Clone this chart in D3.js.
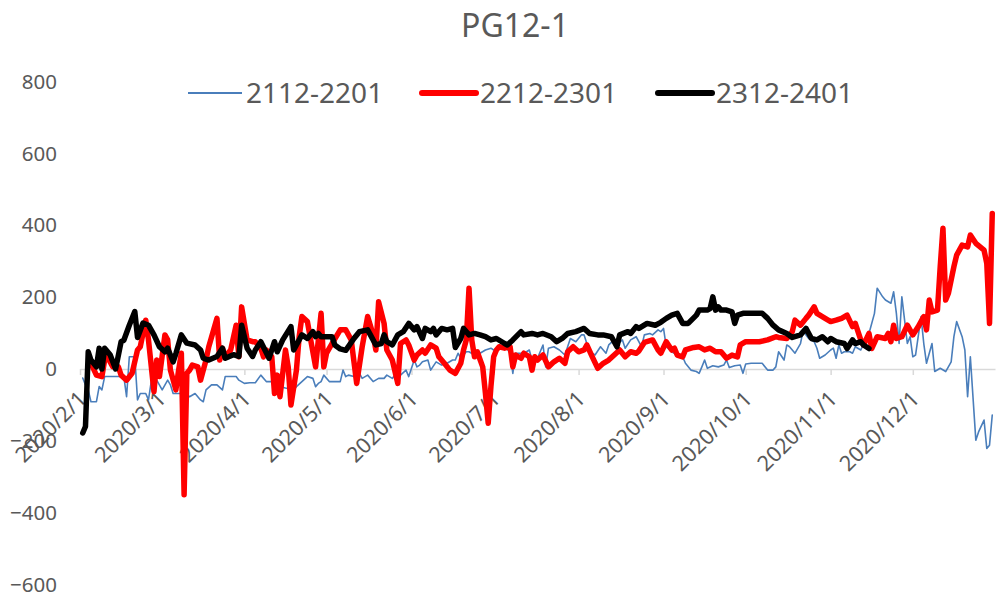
<!DOCTYPE html>
<html>
<head>
<meta charset="utf-8">
<script src="https://cdn.jsdelivr.net/npm/d3@7/dist/d3.min.js"></script>
<style>
html,body{margin:0;padding:0;background:#fff;}
svg{display:block;font-family:"Noto Sans",sans-serif;}
</style>
</head>
<body>
<svg id="chart" width="997" height="596"></svg>
<script>
// ---------- data ----------
const title = "PG12-1";
const seriesNames = ["2112-2201", "2212-2301", "2312-2401"];
const yTicks = [-600, -400, -200, 0, 200, 400, 600, 800];

// 2112-2201
const blueDates = ["2/2","2/3","2/4","2/5","2/7","2/8","2/9","2/10","2/13","2/16","2/17","2/18","2/19","2/21","2/22","2/23","2/25","2/26","2/27","2/29",
"3/2","3/4","3/5","3/6","3/9","3/10","3/12","3/14","3/16","3/17","3/18","3/20","3/22","3/24","3/25","3/27","3/29","3/30",
"4/1","4/3","4/5","4/7","4/9","4/11","4/13","4/14","4/16","4/19","4/20","4/22","4/24","4/26","4/27","4/28","4/29","4/30",
"5/2","5/4","5/6","5/7","5/8","5/9","5/11","5/13","5/14","5/16","5/18","5/20","5/22","5/23","5/25","5/26","5/28","5/30","5/31",
"6/2","6/3","6/4","6/5","6/7","6/8","6/10","6/12","6/14","6/16","6/17","6/18","6/19","6/21","6/22","6/24","6/26","6/28","6/30",
"7/1","7/3","7/5","7/7","7/8","7/9","7/11","7/13","7/14","7/15","7/17","7/19","7/20","7/21","7/23","7/25","7/27","7/28","7/29","7/31",
"8/2","8/3","8/5","8/7","8/9","8/11","8/12","8/14","8/15","8/17","8/18","8/20","8/22","8/24","8/25","8/27","8/28","8/30","8/31",
"9/1","9/2","9/4","9/6","9/8","9/9","9/11","9/13","9/14","9/15","9/16","9/17","9/19","9/21","9/23","9/24","9/25","9/27","9/29","9/30",
"10/1","10/3","10/5","10/7","10/9","10/11","10/12","10/13","10/15","10/16","10/17","10/19","10/21","10/22","10/23","10/24","10/26","10/27","10/28","10/30",
"11/1","11/2","11/3","11/4","11/5","11/6","11/8","11/9","11/10","11/12","11/14","11/15","11/17","11/18","11/20","11/21","11/23","11/24","11/25","11/26","11/27","11/28","11/29","11/30",
"12/1","12/2","12/4","12/5","12/6","12/8","12/9","12/11","12/13","12/15","12/16","12/17","12/19","12/20","12/21","12/22","12/24","12/25","12/27","12/28","12/29","12/30"];
const blueValues = [-25,-44,-58,-91,-91,-49,-58,-21,-21,-21,-21,-77,34,34,-86,-68,-68,-86,-35,-31,
-58,-31,-44,-68,-68,-68,-77,-68,-86,-91,-58,-44,-44,-58,-21,-21,-21,-31,
-40,-38,-38,-17,-35,-35,-35,-49,-53,-58,-49,-35,-21,-26,-49,-40,-35,-17,
-35,-35,-35,-3,-21,-17,-21,-12,-26,-17,-35,-26,-26,-17,-26,-17,-17,-3,-21,
25,6,11,20,25,-3,20,11,16,25,25,44,30,48,48,39,44,53,58,
53,58,67,44,-12,44,44,48,53,25,30,67,6,58,62,53,39,62,85,76,
95,95,48,39,62,44,67,81,67,81,58,81,90,62,95,99,95,109,104,
113,62,48,39,34,16,-3,-7,-12,6,25,2,9,6,11,25,4,9,11,-12,
14,16,16,16,-3,-3,6,48,25,67,62,44,71,109,95,85,76,58,30,39,
53,58,30,67,44,48,48,44,62,53,85,99,155,225,201,192,183,215,155,71,201,136,71,90,
34,39,146,71,16,71,-7,2,-7,20,90,132,90,53,-77,34,-198,-175,-142,-221,-212,-128];

// 2212-2301
const redDates = ["2/5","2/7","2/9","2/10","2/11","2/13","2/15","2/16","2/18","2/20","2/22","2/23","2/25","2/26","2/28","2/29",
"3/1","3/3","3/4","3/5","3/7","3/8","3/9","3/10","3/11","3/12","3/13","3/15","3/16","3/18","3/19","3/22","3/23","3/24","3/25","3/27","3/29","3/30","3/31",
"4/2","4/4","4/5","4/7","4/8","4/9","4/11","4/12","4/13","4/14","4/16","4/17","4/18","4/20","4/21","4/22","4/24","4/25","4/27","4/29","4/30",
"5/1","5/3","5/6","5/8","5/10","5/12","5/14","5/16","5/18","5/19","5/20","5/22","5/23","5/25","5/27","5/28","5/30","5/31",
"6/2","6/3","6/5","6/6","6/8","6/10","6/11","6/13","6/15","6/17","6/19","6/20","6/21","6/22","6/23","6/24","6/25","6/27","6/28","6/29","6/30",
"7/1","7/2","7/3","7/5","7/7","7/8","7/9","7/11","7/12","7/14","7/15","7/16","7/17","7/19","7/21","7/23","7/25","7/27","7/28","7/30",
"8/1","8/3","8/4","8/6","8/8","8/10","8/12","8/14","8/16","8/18","8/20","8/22","8/23","8/25","8/28","8/30","8/31",
"9/2","9/4","9/5","9/6","9/8","9/9","9/12","9/14","9/16","9/18","9/20","9/22","9/24","9/26","9/28","9/29",
"10/1","10/4","10/6","10/9","10/12","10/13","10/16","10/18","10/19","10/21","10/23","10/24","10/26","10/27","10/30",
"11/1","11/3","11/5","11/7","11/9","11/10","11/12","11/13","11/15","11/16","11/18","11/21","11/22","11/23","11/24","11/25","11/27","11/29",
"12/1","12/3","12/5","12/6","12/7","12/8","12/10","12/11","12/12","12/13","12/14","12/16","12/17","12/19","12/21","12/22","12/24","12/27","12/28","12/29","12/30"];
const redValues = [16,-17,-21,25,34,6,6,-17,-31,-12,53,62,136,81,-63,25,
-21,95,81,-3,-58,-3,44,-350,-12,-3,11,6,-31,25,62,141,25,58,34,53,122,34,173,
81,76,76,58,34,53,34,-68,-17,-77,53,6,-100,-3,90,146,132,90,6,155,6,
44,71,109,109,81,-40,62,146,95,53,187,127,53,25,-40,71,81,67,
25,39,53,44,67,58,34,16,-3,-12,16,53,81,225,81,34,48,6,-68,-151,-49,
34,53,62,58,62,6,39,30,44,34,-3,34,25,39,6,20,30,16,48,62,
48,53,67,34,2,16,25,39,53,34,48,44,50,74,81,53,44,
76,53,58,39,34,53,60,62,53,58,48,48,30,39,34,67,
76,76,76,81,90,88,85,104,136,122,141,150,173,155,141,
132,136,141,150,118,127,81,67,99,57,90,85,99,76,122,85,90,122,
95,118,146,109,192,159,164,285,392,192,211,285,317,345,340,373,350,331,294,127,433];

// 2312-2401
const blackDates = ["2/2","2/3","2/4","2/5","2/7","2/8","2/9","2/10","2/12","2/14","2/16","2/17","2/19","2/21","2/22","2/24","2/26","2/28",
"3/1","3/3","3/4","3/6","3/7","3/9","3/11","3/14","3/16","3/17","3/19","3/22","3/24","3/25","3/28","3/30","3/31",
"4/2","4/4","4/5","4/7","4/10","4/12","4/13","4/15","4/18","4/19","4/20","4/22","4/24","4/26","4/27","4/28","4/29",
"5/3","5/4","5/6","5/8","5/11","5/13","5/16","5/17","5/19","5/21","5/22","5/23","5/25","5/27","5/29","5/31",
"6/2","6/3","6/5","6/6","6/8","6/9","6/10","6/12","6/14","6/16","6/17","6/19","6/20","6/22","6/24","6/26","6/28","6/30",
"7/2","7/5","7/6","7/8","7/11","7/12","7/15","7/17","7/19","7/22","7/24","7/26","7/28","7/31",
"8/3","8/5","8/8","8/10","8/13","8/15","8/16","8/19","8/20","8/22","8/23","8/26","8/29","8/31",
"9/2","9/4","9/6","9/8","9/10","9/13","9/14","9/17","9/18","9/19","9/20","9/21","9/22","9/24","9/26","9/27","9/28","9/30",
"10/3","10/5","10/7","10/9","10/11","10/13","10/16","10/18","10/21","10/23","10/25","10/27","10/29","10/31",
"11/1","11/3","11/6","11/7","11/9","11/10","11/12","11/13","11/15"];
const blackValues = [-178,-160,48,25,6,58,0,58,40,0,76,80,122,160,88,128,122,95,
62,48,58,20,43,95,72,67,53,30,25,35,58,30,40,35,122,
58,35,53,76,30,76,48,81,118,53,67,95,85,104,90,99,90,
90,67,56,52,85,104,109,95,67,71,95,76,67,95,104,127,
109,118,85,113,104,113,95,113,109,113,60,85,113,95,99,95,90,81,
85,71,67,81,104,95,99,95,99,90,76,85,99,104,
113,99,95,95,90,62,95,104,99,118,113,127,122,130,
141,150,155,127,127,150,164,164,168,201,164,173,164,164,159,127,150,155,
155,155,155,141,122,109,99,88,95,113,85,81,90,76,
85,76,71,57,81,71,76,67,57];

const seriesColors = ["#4a7ebb", "#ff0000", "#000000"];
const seriesWidths = [1.6, 5.5, 5.5];

// ---------- chart ----------
const parse = d3.timeParse("%Y/%m/%d");
const toDate = s => parse("2020/" + s);
const series = [
  {name: seriesNames[0], dates: blueDates, values: blueValues},
  {name: seriesNames[1], dates: redDates, values: redValues},
  {name: seriesNames[2], dates: blackDates, values: blackValues}
].map((s, i) => ({
  name: s.name, color: seriesColors[i], width: seriesWidths[i],
  points: s.dates.map((d, j) => ({date: toDate(d), value: s.values[j]}))
}));

const svg = d3.select("#chart");
const textColor = "#595959";

const x = d3.scaleTime()
  .domain([new Date(2020, 1, 1), new Date(2020, 11, 31)])
  .range([80, 995]);
const y = d3.scaleLinear().domain([-600, 800]).range([584.6, 81.6]);

// title
svg.append("text")
  .attr("x", 515).attr("y", 37)
  .attr("text-anchor", "middle")
  .attr("font-size", 32)
  .attr("fill", textColor)
  .text(title);

// y axis labels
const yAxis = svg.append("g")
  .attr("transform", "translate(57,0)")
  .call(d3.axisLeft(y).tickValues(yTicks).tickSize(0).tickPadding(0).tickFormat(d3.format("d")));
yAxis.select(".domain").remove();
yAxis.selectAll("text")
  .attr("font-family", "Noto Sans, sans-serif")
  .attr("font-size", 20.5)
  .attr("fill", textColor);

// x axis at zero
const xAxis = svg.append("g")
  .attr("transform", `translate(0,${y(0)})`)
  .call(d3.axisBottom(x)
    .ticks(d3.timeMonth.every(1))
    .tickSize(6).tickSizeOuter(0)
    .tickFormat(d3.timeFormat("%Y/%-m/%-d")));
xAxis.select(".domain").attr("stroke", "#d9d9d9").attr("stroke-width", 1.5);
xAxis.selectAll(".tick line").attr("stroke", "#d9d9d9").attr("stroke-width", 1.5);
xAxis.selectAll(".tick text")
  .attr("font-family", "Noto Sans, sans-serif")
  .attr("font-size", 21.5)
  .attr("fill", textColor)
  .attr("text-anchor", "end")
  .attr("x", 0).attr("y", 0).attr("dy", "0.35em")
  .attr("transform", "translate(2,26) rotate(-45)");

// lines
const line = d3.line()
  .x(d => x(d.date))
  .y(d => y(d.value));

svg.append("g").selectAll("path")
  .data(series)
  .join("path")
  .attr("fill", "none")
  .attr("stroke", d => d.color)
  .attr("stroke-width", d => d.width)
  .attr("stroke-linejoin", "round")
  .attr("stroke-linecap", "round")
  .attr("d", d => line(d.points));

// legend
const legendPos = [{lx: 188, tx: 246}, {lx: 422, tx: 480}, {lx: 658, tx: 716}];
const legend = svg.append("g");
series.forEach((s, i) => {
  legend.append("line")
    .attr("x1", legendPos[i].lx).attr("x2", legendPos[i].lx + 54)
    .attr("y1", 93).attr("y2", 93)
    .attr("stroke", s.color)
    .attr("stroke-width", i === 0 ? 2 : 6)
    .attr("stroke-linecap", i === 0 ? "butt" : "round");
  legend.append("text")
    .attr("x", legendPos[i].tx).attr("y", 93)
    .attr("dy", "0.35em")
    .attr("font-size", 28)
    .attr("fill", textColor)
    .text(s.name);
});
</script>
</body>
</html>
